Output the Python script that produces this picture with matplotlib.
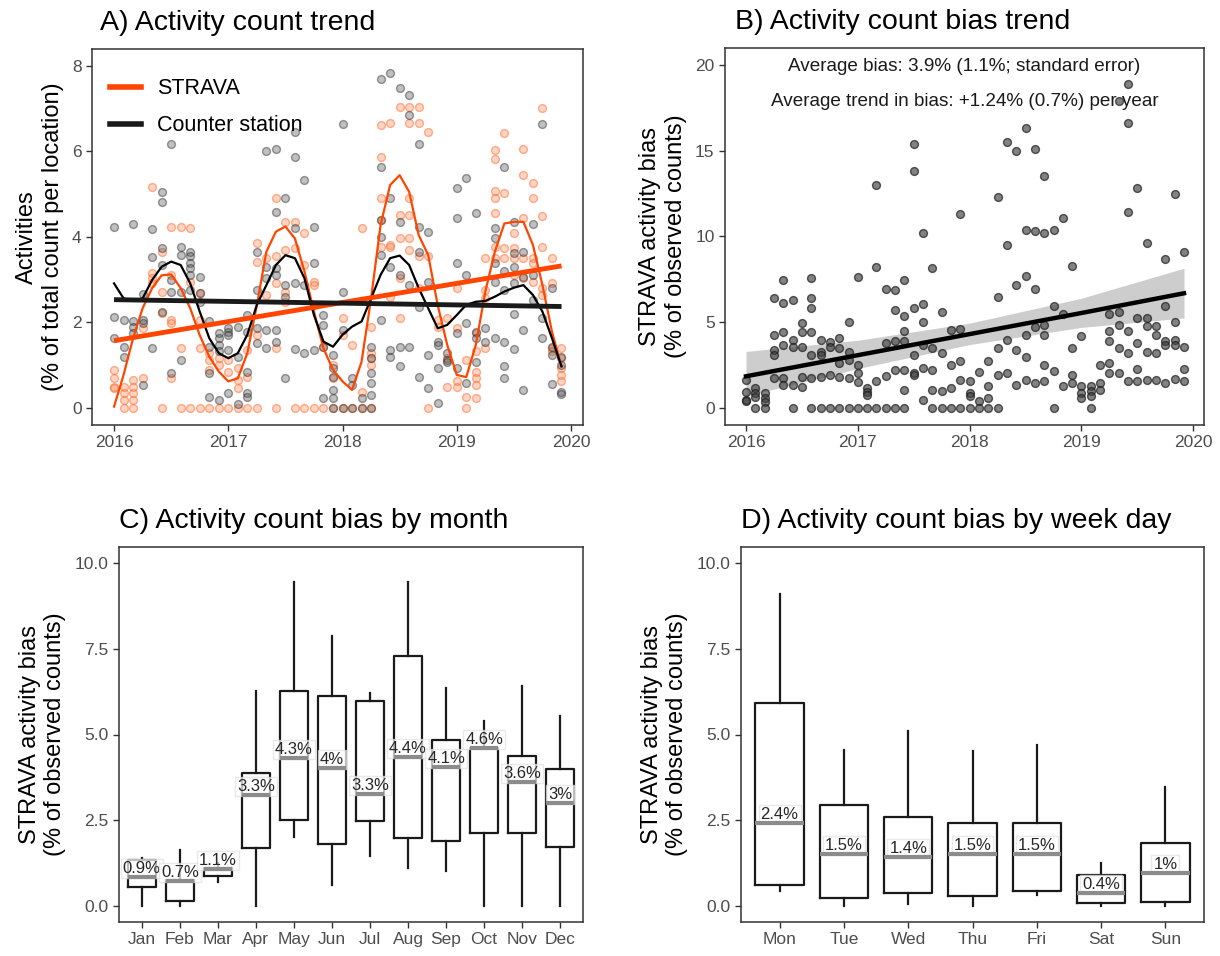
import numpy as np
import matplotlib
matplotlib.use("Agg")
import matplotlib.pyplot as plt
from matplotlib.lines import Line2D

plt.rcParams['font.family'] = ['Liberation Sans', 'DejaVu Sans']

# ---------------- data ----------------
# Panel A: monthly values (Jan 2016 .. Dec 2019), % of total count per location
strava_pts = [
    [0.89, 0.69, 0.5, 0.46], [0.5, 0.34, 0.19, 0.0], [0.65, 0.5, 0.34, 0.19, 0.0],
    [1.86, 0.71], [5.17, 3.15, 3.03, 2.91], [3.65, 2.72, 2.21, 0.0],
    [4.24, 3.11, 2.06, 1.98, 0.71], [4.24, 1.39, 0.0], [4.2, 2.95, 0.0],
    [2.68, 2.06, 1.39, 0.0], [1.28, 1.12, 0.89, 0.0], [1.16, 1.0, 0.0],
    [1.12, 0.85, 0.0], [0.93, 0.65, 0.46, 0.0], [1.36, 0.73, 0.0],
    [3.85, 3.42, 1.71, 0.0], [3.5, 2.64], [4.9, 3.54, 2.91, 1.39, 0.0],
    [4.35, 3.69, 2.72, 2.48], [4.35, 3.73, 0.0], [4.08, 3.34, 0.0],
    [2.95, 2.87, 0.0], [1.43, 0.0], [1.0, 0.69, 0.0],
    [2.1, 1.71, 0.0], [1.47, 0.0], [4.2, 0.38, 0.0],
    [1.9, 1.28, 1.16, 1.0, 0.0], [6.61, 5.87, 4.9, 4.39, 3.77], [6.65, 3.81, 3.77, 2.6],
    [7.04, 4.51, 3.96, 3.03, 2.1], [7.04, 6.65, 4.9, 4.51, 3.96, 3.69], [7.04, 6.65, 3.54, 2.8],
    [6.44, 3.54, 0.0], [2.06, 1.9], [2.1, 1.16, 0.5],
    [2.8, 1.86, 0.62, 0.5], [1.12, 0.26, 0.0], [1.74, 1.32, 0.85, 0.69, 0.54, 0.23],
    [3.51, 2.76, 2.56, 1.39], [6.03, 5.83, 5.07, 4.9, 4.56, 3.77, 3.5], [6.42, 5.02, 3.73, 3.5],
    [4.08, 3.73, 3.5, 3.11], [6.05, 5.44, 4.43, 3.5, 3.03], [5.26, 4.9, 3.5, 3.38, 2.95],
    [7.02, 4.49, 3.77, 2.8, 2.64], [3.51, 2.91, 1.39, 1.32], [1.39, 1.16, 0.93, 0.77, 0.62],
]
counter_pts = [
    [4.24, 2.13, 1.63], [2.06, 1.43, 1.2], [4.31, 2.02, 1.9, 1.74],
    [2.66, 2.06, 1.98, 0.54], [4.18, 3.52, 1.41], [5.05, 4.82, 3.73, 3.34, 2.25],
    [6.17, 2.99, 2.72, 0.81], [3.77, 3.57, 2.72, 1.12], [3.65, 3.54, 3.38, 3.26, 3.11, 2.76],
    [3.07, 2.68, 2.48], [2.02, 1.43, 0.81, 0.26], [1.74, 1.63, 1.47, 1.32, 0.19],
    [1.86, 1.78, 1.71, 1.36, 0.34], [1.9, 1.2, 0.09], [2.17, 1.78, 0.85, 0.34, 0.26],
    [3.65, 2.76, 1.86, 1.51], [6.0, 3.3, 3.03, 1.82, 1.39], [6.05, 4.59, 3.26, 3.11, 1.82, 1.55],
    [4.9, 2.87, 2.6, 0.69], [6.46, 5.87, 4.21, 2.91, 1.38], [5.33, 2.87, 1.28],
    [4.24, 3.38, 2.41, 1.36], [2.17, 1.94, 1.43, 0.23], [1.24, 0.93, 0.73, 0.42, 0.23, 0.0],
    [6.63, 2.72, 1.82, 0.0], [0.69, 0.54, 0.0], [0.23, 0.0],
    [1.43, 1.16, 0.81, 0.58, 0.3, 0.0], [7.7, 5.64, 4.39, 4.0, 3.57, 2.06], [7.82, 4.9, 3.3, 1.36, 1.2],
    [7.47, 4.35, 3.11, 1.43, 0.97], [7.31, 6.85, 2.87, 1.43], [6.18, 4.24, 3.65, 2.37, 0.73],
    [4.12, 2.95, 1.24, 0.46], [1.55, 1.47, 0.93, 0.11], [1.28, 1.12, 1.08],
    [5.15, 4.43, 3.38, 1.74, 0.93], [5.38, 3.11, 1.98, 0.58], [4.56, 1.78, 1.63, 1.08],
    [1.86, 1.55], [4.2, 3.96, 3.38, 2.95, 1.63], [5.64, 3.19, 2.76, 1.55, 0.97, 0.69],
    [4.35, 3.61, 3.3, 2.91, 2.19, 1.38], [3.65, 3.07, 1.82, 0.42], [4.31, 3.11, 2.52],
    [6.63, 2.1, 1.63], [2.8, 1.43, 1.24, 0.56], [1.2, 1.0, 0.38, 0.32],
]
# smoothed curves (one value per month)
strava_smooth = [0.03, 0.77, 1.63, 2.33, 2.8, 3.1, 3.12, 2.8, 2.33, 1.7, 1.2, 0.85,
                 0.62, 0.69, 1.28, 2.4, 3.65, 4.12, 4.24, 3.96, 3.19, 2.25, 1.39, 0.89,
                 0.62, 0.42, 1.08, 2.56, 4.28, 5.21, 5.44, 5.05, 4.04, 3.57, 2.4, 1.47,
                 0.77, 0.72, 1.47, 2.72, 3.65, 4.31, 4.35, 4.35, 3.81, 2.87, 1.78, 0.97]
counter_smooth = [2.91, 2.56, 2.5, 2.56, 2.99, 3.3, 3.42, 3.34, 2.91, 2.25, 1.63, 1.28,
                  1.16, 1.28, 1.71, 2.41, 2.87, 3.34, 3.57, 3.5, 3.03, 2.17, 1.55, 1.43,
                  1.71, 1.9, 2.02, 2.56, 3.11, 3.5, 3.56, 3.34, 2.8, 2.33, 1.86, 1.94,
                  2.17, 2.41, 2.48, 2.5, 2.6, 2.72, 2.81, 2.87, 2.64, 2.25, 1.63, 0.97]
trend_x = [2016.0, 2019.917]
strava_trend = [1.57, 3.32]
counter_trend = [2.53, 2.37]

# Panel B: STRAVA activity bias (% of observed counts) per month
bias_pts = [
    [1.63, 0.95, 0.47, 0.42], [1.15, 0.86, 0.66, 0.0], [0.86, 0.56, 0.37, 0.0],
    [6.39, 4.26, 3.38, 3.09, 1.73], [7.46, 6.1, 4.45, 3.67, 1.73, 1.34], [6.3, 3.97, 3.58, 1.34, 0.0],
    [4.94, 4.45, 3.58, 1.83, 1.24], [7.56, 6.39, 5.81, 4.45, 3.09, 1.73, 0.0], [3.97, 3.28, 3.09, 1.83, 0.0],
    [3.87, 3.58, 1.92, 0.0], [4.06, 3.48, 2.6, 1.83, 0.0], [5.03, 3.28, 2.8, 1.73, 0.0],
    [7.66, 2.51, 2.02, 1.54, 0.0], [1.15, 0.95, 0.76, 0.0], [13.0, 8.22, 1.55, 0.0],
    [6.94, 3.79, 1.85, 0.0], [6.87, 5.7, 3.89, 2.24, 0.0], [7.44, 5.36, 4.5, 3.89, 2.2, 1.07, 0.0],
    [15.4, 13.8, 5.83, 3.11, 2.04, 1.9], [10.2, 6.05, 5.0, 3.7, 2.33, 0.49], [8.16, 3.5, 2.24, 1.07, 0.0],
    [5.6, 3.2, 0.97, 0.0], [4.57, 2.53, 1.17, 0.0], [11.3, 4.6, 2.72, 1.65, 0.0],
    [1.56, 0.87, 0.68, 0.0], [2.1, 0.39, 0.0], [2.72, 1.26, 0.58, 0.0],
    [12.3, 6.5, 3.5, 1.94, 0.0], [15.5, 9.5, 3.99, 2.04], [15.0, 7.2, 3.36, 1.36],
    [16.3, 10.4, 7.72, 4.28, 3.0, 1.65], [15.1, 10.3, 6.94, 4.72, 1.46], [13.5, 10.2, 4.86, 4.28, 2.53, 1.56],
    [10.4, 5.95, 2.14, 0.0], [11.1, 5.5, 1.26], [8.3, 3.5, 1.94, 1.46],
    [4.18, 1.26, 0.87, 0.58], [1.26, 1.0, 0.7, 0.0], [2.53, 1.46, 1.07],
    [5.5, 4.5, 3.89, 2.65, 2.04], [17.9, 5.6, 4.86, 3.5, 2.04], [18.9, 16.6, 11.4, 4.5, 3.21, 1.56],
    [12.8, 5.25, 3.79, 2.28, 1.56], [9.6, 5.25, 4.8, 3.27, 1.65], [4.77, 4.28, 3.21, 1.65],
    [8.66, 5.95, 3.89, 3.66, 1.46], [12.5, 5.0, 3.99, 3.7, 1.69], [9.1, 3.54, 2.3, 1.56],
]
fit_x = [2016.0, 2017.0, 2018.0, 2019.0, 2019.917]
fit_y = [1.85, 3.08, 4.31, 5.54, 6.69]
fit_lo = [0.7, 2.3, 3.7, 4.7, 5.25]
fit_hi = [3.3, 3.95, 4.95, 6.4, 8.15]

# Panel C: bias by month (box stats)
months = ["Jan", "Feb", "Mar", "Apr", "May", "Jun", "Jul", "Aug", "Sep", "Oct", "Nov", "Dec"]
m_whislo = [0.0, 0.0, 0.71, 0.0, 2.02, 0.61, 1.46, 1.1, 1.03, 0.0, 0.0, 0.0]
m_q1 = [0.54, 0.13, 0.86, 1.7, 2.51, 1.8, 2.49, 1.99, 1.9, 2.14, 2.14, 1.73]
m_med = [0.83, 0.73, 1.07, 3.24, 4.32, 4.01, 3.26, 4.35, 4.06, 4.6, 3.6, 2.99]
m_q3 = [1.34, 0.76, 1.1, 3.89, 6.27, 6.13, 5.98, 7.29, 4.84, 4.6, 4.37, 3.98]
m_whishi = [1.39, 1.63, 1.24, 6.28, 9.46, 7.87, 6.22, 9.46, 6.35, 5.4, 6.42, 5.55]
m_labels = ["0.9%", "0.7%", "1.1%", "3.3%", "4.3%", "4%", "3.3%", "4.4%", "4.1%", "4.6%", "3.6%", "3%"]

# Panel D: bias by week day (box stats)
days = ["Mon", "Tue", "Wed", "Thu", "Fri", "Sat", "Sun"]
d_whislo = [0.42, 0.0, 0.06, 0.0, 0.32, 0.0, 0.0]
d_q1 = [0.61, 0.24, 0.39, 0.3, 0.42, 0.08, 0.11]
d_med = [2.41, 1.52, 1.44, 1.52, 1.52, 0.37, 0.95]
d_q3 = [5.93, 2.94, 2.6, 2.41, 2.43, 0.9, 1.83]
d_whishi = [9.09, 4.55, 5.1, 4.53, 4.69, 1.24, 3.46]
d_labels = ["2.4%", "1.5%", "1.4%", "1.5%", "1.5%", "0.4%", "1%"]

# ---------------- figure ----------------
W, H = 1220, 956
fig = plt.figure(figsize=(W / 100, H / 100), dpi=100)


def px_axes(l, t, r, b):
    return fig.add_axes([l / W, 1 - b / H, (r - l) / W, (b - t) / H])


def style(ax):
    for s in ax.spines.values():
        s.set_color("#333333")
        s.set_linewidth(1.1)
    ax.tick_params(direction="out", length=4, width=1, color="#333333",
                   labelsize=12.5, labelcolor="#4d4d4d")


def title(ax, txt, dx):
    ax.text(dx, 1.035, txt, transform=ax.transAxes, ha="left", va="bottom", fontsize=20.5)


orange = "#ff4500"
months_x = [2016 + i / 12 for i in range(48)]

# ---- A ----
axA = px_axes(92, 49, 583, 425)
sx, sy, cx, cy = [], [], [], []
for x, vals in zip(months_x, strava_pts):
    sx += [x] * len(vals)
    sy += vals
for x, vals in zip(months_x, counter_pts):
    cx += [x] * len(vals)
    cy += vals
axA.scatter(sx, sy, s=32, facecolor=(1.0, 0.55, 0.35, 0.35),
            edgecolor=(1.0, 0.4, 0.15, 0.5), linewidth=1, zorder=2)
axA.scatter(cx, cy, s=32, facecolor=(0.3, 0.3, 0.3, 0.35),
            edgecolor=(0.15, 0.15, 0.15, 0.45), linewidth=1, zorder=2)
axA.plot(months_x, strava_smooth, color=orange, lw=1.6, zorder=3)
axA.plot(months_x, counter_smooth, color="black", lw=1.6, zorder=3)
axA.plot(trend_x, strava_trend, color=orange, lw=3.5, zorder=4, solid_capstyle="butt")
axA.plot(trend_x, counter_trend, color="#1a1a1a", lw=3.5, zorder=4, solid_capstyle="butt")
axA.set_xlim(2015.807, 2020.105)
axA.set_ylim(-0.4, 8.39)
axA.set_xticks([2016, 2017, 2018, 2019, 2020])
axA.set_yticks([0, 2, 4, 6, 8])
axA.set_ylabel("Activities\n(% of total count per location)", fontsize=17, labelpad=6)
title(axA, "A) Activity count trend", 0.016)
handles = [Line2D([], [], color=orange, lw=4), Line2D([], [], color="#1a1a1a", lw=4)]
axA.legend(handles, ["STRAVA", "Counter station"], loc="upper left", frameon=False,
           fontsize=15.5, handlelength=1.4, handletextpad=0.75, labelspacing=0.75,
           borderaxespad=0.0, bbox_to_anchor=(0.02, 0.945))
style(axA)

# ---- B ----
axB = px_axes(725, 48, 1204, 425)
bx, by = [], []
for x, vals in zip(months_x, bias_pts):
    bx += [x] * len(vals)
    by += vals
axB.fill_between(fit_x, fit_lo, fit_hi, color="#bdbdbd", alpha=0.75, lw=0, zorder=1)
axB.scatter(bx, by, s=32, facecolor=(0.25, 0.25, 0.25, 0.65),
            edgecolor=(0.1, 0.1, 0.1, 0.7), linewidth=1, zorder=2)
axB.plot(fit_x, fit_y, color="black", lw=3.2, zorder=3)
axB.set_xlim(2015.812, 2020.096)
axB.set_ylim(-0.99, 20.99)
axB.set_xticks([2016, 2017, 2018, 2019, 2020])
axB.set_yticks([0, 5, 10, 15, 20])
axB.set_ylabel("STRAVA activity bias\n(% of observed counts)", fontsize=17, labelpad=6)
title(axB, "B) Activity count bias trend", 0.02)
axB.text(0.5, 0.952, "Average bias: 3.9% (1.1%; standard error)", transform=axB.transAxes,
         ha="center", va="center", fontsize=13.6, color="#1a1a1a")
axB.text(0.5, 0.859, "Average trend in bias: +1.24% (0.7%) per year", transform=axB.transAxes,
         ha="center", va="center", fontsize=13.6, color="#1a1a1a")
style(axB)


# ---- C and D ----
def boxpanel(ax, cats, lo, q1, med, q3, hi, labels, ttl):
    stats = []
    for i in range(len(cats)):
        stats.append(dict(whislo=lo[i], q1=q1[i], med=med[i], q3=q3[i], whishi=hi[i], label=cats[i]))
    pos = list(range(1, len(cats) + 1))
    ax.bxp(stats, positions=pos, widths=0.75, showfliers=False, showcaps=False,
           boxprops=dict(color="#1a1a1a", lw=1.6),
           whiskerprops=dict(color="#1a1a1a", lw=1.6),
           medianprops=dict(color="#1a1a1a", lw=1.6))
    for p, m, lab in zip(pos, med, labels):
        ax.plot([p - 0.375, p + 0.375], [m, m], color="#8c8c8c", lw=3, zorder=6,
                solid_capstyle="butt")
        ax.text(p, m + 0.03, lab, ha="center", va="bottom", fontsize=12, color="#262626",
                zorder=5, bbox=dict(boxstyle="square,pad=0.12", facecolor="white",
                                    edgecolor="#e0e0e0", alpha=0.7, lw=1))
    ax.set_xlim(0.4, len(cats) + 0.6)
    ax.set_ylim(-0.47, 10.47)
    ax.set_yticks([0, 2.5, 5, 7.5, 10])
    ax.set_yticklabels(["0.0", "2.5", "5.0", "7.5", "10.0"])
    ax.set_xticks(pos)
    ax.set_xticklabels(cats)
    ax.set_ylabel("STRAVA activity bias\n(% of observed counts)", fontsize=17, labelpad=6)
    title(ax, ttl, 0.0)
    style(ax)


axC = px_axes(119, 547, 583, 922)
boxpanel(axC, months, m_whislo, m_q1, m_med, m_q3, m_whishi, m_labels,
         "C) Activity count bias by month")
axD = px_axes(741, 547, 1204, 922)
boxpanel(axD, days, d_whislo, d_q1, d_med, d_q3, d_whishi, d_labels,
         "D) Activity count bias by week day")

fig.savefig("out.png", dpi=100)
